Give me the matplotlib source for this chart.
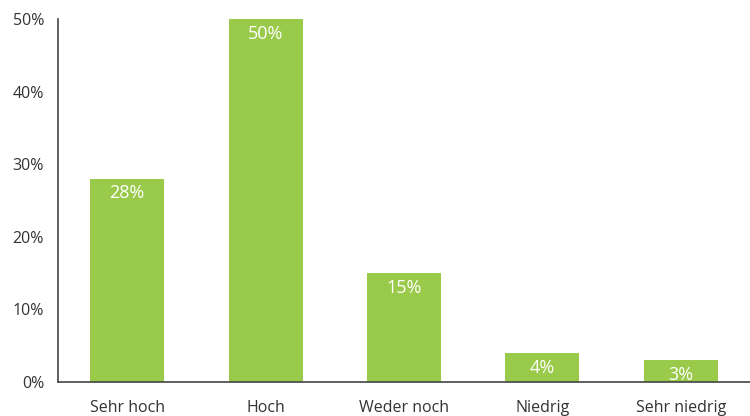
import matplotlib.pyplot as plt
from matplotlib.ticker import FuncFormatter

plt.rcParams['font.family'] = ['Open Sans', 'DejaVu Sans']

categories = ['Sehr hoch', 'Hoch', 'Weder noch', 'Niedrig', 'Sehr niedrig']
values = [28, 50, 15, 4, 3]

fig = plt.figure(figsize=(7.5, 4.16), dpi=100)
ax = fig.add_axes([0.0773, 0.0817, 0.9227, 0.8723])

x = range(len(categories))
bars = ax.bar(x, values, width=0.535, color='#99ca4a')

for b, v in zip(bars, values):
    ax.annotate(f'{v}%', (b.get_x() + b.get_width() / 2, v),
                xytext=(0, -10.5), textcoords='offset points',
                ha='center', va='center', color='white', fontsize=13)

ax.set_xlim(-0.5, len(categories) - 0.5)
ax.set_ylim(0, 50)
ax.set_yticks(range(0, 51, 10))
ax.yaxis.set_major_formatter(FuncFormatter(lambda v, p: f'{int(v)}%'))
ax.set_xticks(list(x))
ax.set_xticklabels(categories)
ax.tick_params(axis='both', length=0, labelsize=11.5, colors='#333333')
ax.tick_params(axis='x', pad=13)
ax.tick_params(axis='y', pad=10)

for s in ['top', 'right']:
    ax.spines[s].set_visible(False)
for s in ['left', 'bottom']:
    ax.spines[s].set_color('#444444')
    ax.spines[s].set_linewidth(1.2)

fig.savefig('out.png', dpi=100)
